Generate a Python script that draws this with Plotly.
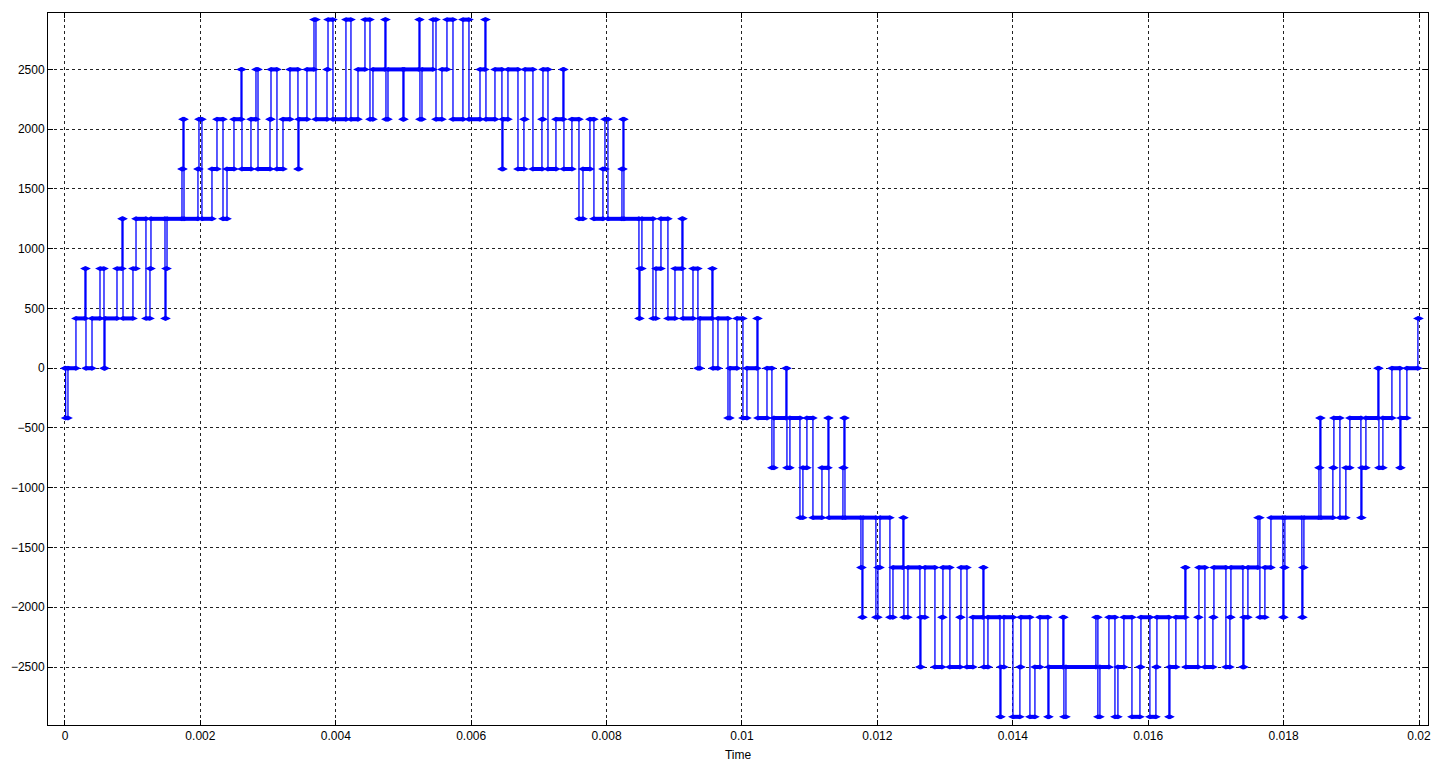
import plotly.graph_objects as go

# Output voltage levels of the 15-level inverter (index -7 .. +7)
LEVEL_VOLTS = [-2916.7, -2500.0, -2083.3, -1666.7, -1250.0, -833.3, -416.7, 0.0,
               416.7, 833.3, 1250.0, 1666.7, 2083.3, 2500.0, 2916.7]

# Switching instants (microseconds) and the level index held from each instant
switch_time_us = [
    0, 10, 44, 162, 295, 310, 399, 517, 576, 591,
    768, 842, 857, 1004, 1049, 1196, 1255, 1270, 1477, 1492,
    1507, 1728, 1743, 1758, 1964, 1979, 2023, 2171, 2245, 2334,
    2393, 2496, 2600, 2614, 2747, 2821, 2851, 3028, 3043, 3131,
    3220, 3323, 3441, 3456, 3574, 3678, 3707, 3870, 3885, 3958,
    4150, 4224, 4328, 4431, 4505, 4549, 4726, 4741, 4771, 4992,
    5007, 5229, 5243, 5273, 5435, 5480, 5568, 5642, 5731, 5878,
    5967, 6130, 6203, 6218, 6351, 6454, 6469, 6543, 6691, 6779,
    6794, 6912, 7045, 7060, 7134, 7252, 7355, 7370, 7488, 7592,
    7651, 7754, 7813, 7946, 7976, 8020, 8227, 8242, 8256, 8478,
    8493, 8522, 8685, 8729, 8803, 8906, 9010, 9113, 9128, 9276,
    9349, 9379, 9556, 9571, 9645, 9793, 9822, 9925, 10014, 10073,
    10221, 10236, 10369, 10442, 10472, 10649, 10664, 10708, 10856, 10900,
    10959, 11048, 11181, 11270, 11284, 11491, 11506, 11521, 11757, 11772,
    11786, 11978, 12008, 12038, 12185, 12230, 12377, 12392, 12451, 12628,
    12643, 12702, 12850, 12953, 12968, 13071, 13219, 13234, 13323, 13411,
    13559, 13574, 13633, 13810, 13825, 13869, 14002, 14105, 14120, 14253,
    14327, 14401, 14519, 14534, 14740, 14755, 14785, 15228, 15257, 15287,
    15420, 15509, 15553, 15641, 15760, 15878, 15893, 16025, 16114, 16129,
    16306, 16321, 16409, 16542, 16557, 16734, 16749, 16838, 16956, 16971,
    17148, 17207, 17222, 17399, 17414, 17473, 17621, 17650, 17724, 17813,
    17990, 18005, 18019, 18270, 18285, 18300, 18522, 18536, 18551, 18728,
    18743, 18832, 18920, 18979, 19142, 19157, 19216, 19393, 19408, 19467,
    19600, 19718, 19733, 19821, 19984,
]
level_index = [
    0, -1, 0, 1, 2, 0, 1, 2, 0, 1,
    2, 3, 1, 2, 3, 1, 2, 3, 1, 2,
    3, 4, 5, 3, 4, 5, 3, 4, 5, 3,
    4, 5, 6, 4, 5, 6, 4, 5, 6, 4,
    5, 6, 4, 5, 6, 7, 5, 6, 7, 5,
    7, 5, 6, 7, 5, 6, 7, 5, 6, 5,
    6, 7, 5, 6, 7, 5, 6, 7, 5, 7,
    5, 6, 7, 5, 6, 4, 5, 6, 4, 5,
    6, 4, 5, 6, 4, 5, 6, 4, 5, 3,
    4, 5, 3, 4, 5, 3, 4, 5, 3, 1,
    2, 3, 1, 2, 3, 1, 2, 3, 1, 2,
    0, 1, 2, 0, 1, -1, 0, 1, -1, 0,
    1, -1, 0, -2, -1, 0, -2, -1, -3, -2,
    -1, -3, -2, -1, -3, -2, -1, -3, -4, -5,
    -3, -5, -4, -3, -5, -4, -3, -5, -4, -6,
    -5, -4, -6, -5, -4, -6, -5, -4, -6, -5,
    -4, -6, -5, -7, -6, -5, -7, -6, -5, -7,
    -6, -5, -7, -6, -5, -7, -6, -5, -7, -6,
    -5, -7, -6, -5, -7, -6, -5, -7, -6, -5,
    -7, -6, -5, -4, -6, -5, -4, -6, -5, -4,
    -6, -5, -4, -6, -5, -4, -3, -5, -4, -3,
    -5, -4, -3, -5, -4, -3, -2, -1, -3, -2,
    -1, -3, -2, -1, -3, -2, -1, 0, -2, -1,
    0, -2, -1, 0, 1,
]
end_time_us = 20000

x_tick_vals = [0, 0.002, 0.004, 0.006, 0.008, 0.01, 0.012, 0.014, 0.016, 0.018, 0.02]
x_tick_text = ["0", "0.002", "0.004", "0.006", "0.008", "0.01", "0.012", "0.014",
               "0.016", "0.018", "0.02"]
y_tick_vals = [-2500, -2000, -1500, -1000, -500, 0, 500, 1000, 1500, 2000, 2500]

BLUE = "#0000ff"

t_start = [u * 1e-6 for u in switch_time_us]
t_end = t_start[1:] + [end_time_us * 1e-6]
volts = [LEVEL_VOLTS[k + 7] for k in level_index]

fig = go.Figure()

# thin zero-order-hold trace: carries the vertical switching edges
fig.add_trace(go.Scatter(
    x=t_start + [t_end[-1]], y=volts + [volts[-1]],
    mode="lines", line=dict(color=BLUE, width=1.3, shape="hv"),
    hoverinfo="skip", showlegend=False,
))

# sampled plateaus: dense sample markers render as thick horizontal bars
bar_x, bar_y = [], []
for a, b, v in zip(t_start, t_end, volts):
    bar_x += [a, b, None]
    bar_y += [v, v, None]
fig.add_trace(go.Scatter(
    x=bar_x, y=bar_y, mode="lines+markers",
    line=dict(color=BLUE, width=4),
    marker=dict(color=BLUE, size=7, symbol="diamond-wide", line=dict(width=0)),
    showlegend=False,
))

axis_common = dict(
    showline=True, linecolor="black", linewidth=1, mirror="allticks",
    ticks="inside", ticklen=5, tickcolor="black", tickwidth=1,
    showgrid=True, gridcolor="#222222", gridwidth=1, griddash="3px,3px",
    zeroline=False, automargin=False,
    tickfont=dict(family="Liberation Sans, Arial", size=12, color="black"),
)

fig.update_xaxes(
    range=[-0.000251, 0.020133], tickvals=x_tick_vals, ticktext=x_tick_text,
    title=dict(text="Time", font=dict(family="Liberation Sans, Arial", size=12, color="black"),
               standoff=9),
    **axis_common,
)
fig.update_yaxes(
    range=[-2985, 2972], tickvals=y_tick_vals,
    **axis_common,
)

fig.update_layout(
    width=1433, height=762,
    margin=dict(l=48, r=5, t=13, b=37),
    paper_bgcolor="white", plot_bgcolor="white",
    showlegend=False,
)

fig.write_html("out.html")
